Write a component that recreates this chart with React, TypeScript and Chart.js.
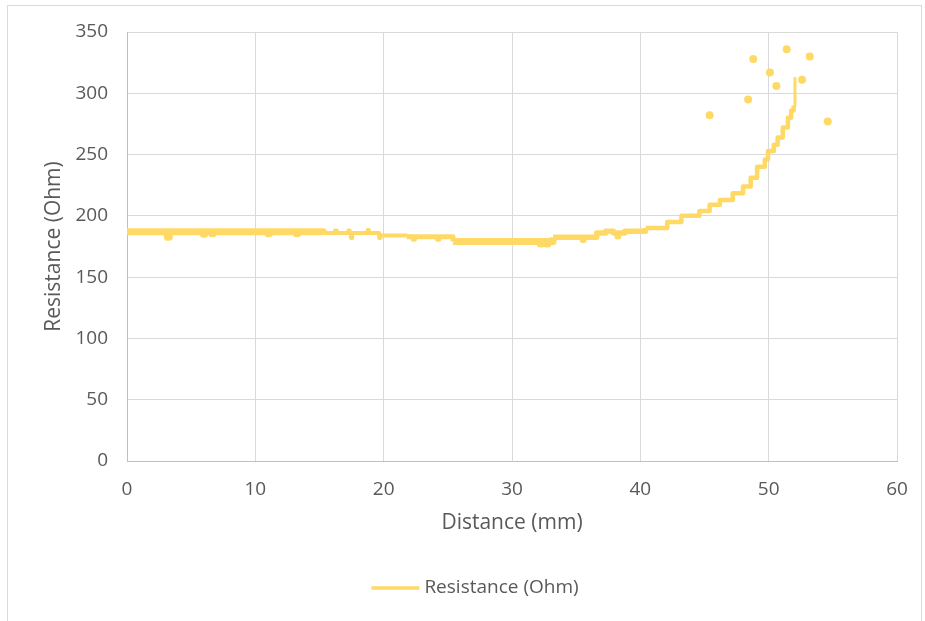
import { useEffect, useRef } from 'react';
import { Chart, registerables } from 'chart.js';

Chart.register(...registerables);

// Main series (distance in mm, resistance in Ohm)
const distance = [
  0, 3.15, 3.3, 5.95, 6.05, 6.6, 6.7, 11.0, 11.1, 13.2, 13.3,
  15.3, 16.2, 16.35, 17.25, 17.35, 17.45, 17.55, 18.75, 18.85, 19.65, 19.75,
  21.8, 22.3, 22.4, 24.2, 24.3,
  25.4, 32.2, 32.3, 32.7, 32.8,
  33.2, 35.5, 35.6, 36.6, 37.3, 37.9, 38.2, 38.3, 38.8,
  40.4, 42.1, 43.2, 44.6, 45.4, 46.2, 47.2, 48.0, 48.6, 49.1, 49.7, 49.95,
  50.4, 50.7, 51.1, 51.5, 51.75, 51.95, 52.05,
];
const resistance = [
  187, 182.5, 187, 185, 187, 185.5, 187, 185.5, 187, 185.5, 187,
  186, 188, 186, 188, 186, 182, 186, 188.5, 186, 182, 184,
  183, 181, 183, 181, 183,
  179, 177, 179, 177, 179,
  182.5, 180, 182.5, 186, 187.5, 186, 183, 186, 187.5,
  190, 195, 200, 204, 209, 213, 218.5, 224, 231, 240, 246, 253,
  258, 264, 272, 280, 286, 290, 313,
];

// Isolated readings near the end of the run
const outlierDistance = [45.4, 48.4, 48.8, 50.1, 50.6, 51.4, 52.6, 53.2, 54.6];
const outlierResistance = [282, 295, 328, 317, 306, 336, 311, 330, 277];

const xTicks = [0, 10, 20, 30, 40, 50, 60];
const yTicks = [0, 50, 100, 150, 200, 250, 300, 350];

const seriesName = 'Resistance (Ohm)';
const xTitle = 'Distance (mm)';
const yTitle = 'Resistance (Ohm)';

const LINE_COLOR = '#FFD966';
const TEXT_COLOR = '#595959';
const GRID_COLOR = '#d9d9d9';
const FONT = '"Open Sans", "Noto Sans", sans-serif';

const CHART_LEFT = 127;
const CHART_RIGHT_PAD = 28;
const CHART_TOP = 32;
const CHART_BOTTOM = 461;
const BOTTOM_PAD = 80;

const legendPlugin = {
  id: 'excelLegend',
  afterDraw(chart: any) {
    const ctx = chart.ctx as CanvasRenderingContext2D;
    ctx.save();
    ctx.font = `19px ${FONT}`;
    const tw = ctx.measureText(seriesName).width;
    const lineW = 48;
    const gap = 5;
    const total = lineW + gap + tw;
    const cx = 475;
    const cy = 588;
    const x0 = cx - total / 2;
    ctx.strokeStyle = LINE_COLOR;
    ctx.lineWidth = 3.5;
    ctx.beginPath();
    ctx.moveTo(x0, cy);
    ctx.lineTo(x0 + lineW, cy);
    ctx.stroke();
    ctx.fillStyle = TEXT_COLOR;
    ctx.textBaseline = 'middle';
    ctx.textAlign = 'left';
    ctx.fillText(seriesName, x0 + lineW + gap, cy);
    ctx.restore();
  },
};

function widthFor(x: number): number {
  if (x < 15.3) return 7;
  if (x < 21.8) return 4;
  if (x < 25.4) return 5;
  if (x < 33.2) return 7;
  if (x < 40.4) return 5.5;
  if (x < 51.95) return 4.5;
  return 3;
}

export default function App() {
  const canvasRef = useRef<HTMLCanvasElement | null>(null);

  useEffect(() => {
    if (!canvasRef.current) return;
    const mainData = distance.map((d, i) => ({ x: d, y: resistance[i] }));
    const outlierData = outlierDistance.map((d, i) => ({ x: d, y: outlierResistance[i] }));

    const chart = new Chart(canvasRef.current, {
      type: 'scatter',
      data: {
        datasets: [
          {
            label: seriesName,
            data: mainData,
            showLine: true,
            stepped: true,
            borderColor: LINE_COLOR,
            backgroundColor: LINE_COLOR,
            borderWidth: 5,
            pointRadius: 0,
            borderJoinStyle: 'round',
            segment: {
              borderWidth: (c: any) => widthFor(c.p0.parsed.x),
            },
          } as any,
          {
            label: 'outliers',
            data: outlierData,
            showLine: false,
            pointRadius: 4,
            pointBorderWidth: 0,
            backgroundColor: LINE_COLOR,
            borderColor: LINE_COLOR,
          },
        ],
      },
      options: {
        animation: false,
        responsive: false,
        maintainAspectRatio: false,
        events: [],
        layout: {
          padding: { left: 0, top: CHART_TOP, right: CHART_RIGHT_PAD, bottom: BOTTOM_PAD },
        },
        plugins: {
          legend: { display: false },
          tooltip: { enabled: false },
        },
        scales: {
          x: {
            type: 'linear',
            min: 0,
            max: 60,
            afterBuildTicks: (scale: any) => {
              scale.ticks = xTicks.map((v) => ({ value: v }));
            },
            afterFit: (scale: any) => {
              scale.height = 621 - BOTTOM_PAD - CHART_BOTTOM;
            },
            grid: { color: GRID_COLOR, lineWidth: 1, drawTicks: false },
            border: { color: '#bfbfbf', width: 1 },
            ticks: {
              color: TEXT_COLOR,
              font: { family: FONT, size: 19 },
              padding: 17,
              maxRotation: 0,
            },
            title: {
              display: true,
              text: xTitle,
              color: TEXT_COLOR,
              font: { family: FONT, size: 21 },
              padding: { top: 0, bottom: 5 },
            },
          },
          y: {
            type: 'linear',
            min: 0,
            max: 350,
            afterBuildTicks: (scale: any) => {
              scale.ticks = yTicks.map((v) => ({ value: v }));
            },
            afterFit: (scale: any) => {
              scale.width = CHART_LEFT;
            },
            grid: { color: GRID_COLOR, lineWidth: 1, drawTicks: false },
            border: { color: '#bfbfbf', width: 1 },
            ticks: {
              color: TEXT_COLOR,
              font: { family: FONT, size: 19 },
              padding: 19,
            },
            title: {
              display: true,
              text: yTitle,
              color: TEXT_COLOR,
              font: { family: FONT, size: 21 },
              padding: { top: 41, bottom: 0 },
            },
          },
        },
      },
      plugins: [legendPlugin],
    });

    return () => {
      chart.destroy();
    };
  }, []);

  return (
    <div style={{ position: 'fixed', left: 0, top: 0, width: 925, height: 621, background: '#fff', overflow: 'hidden' }}>
      <div
        style={{
          position: 'absolute',
          left: 7,
          top: 5,
          width: 915,
          height: 640,
          border: '1px solid #d9d9d9',
          borderBottom: 'none',
          boxSizing: 'border-box',
        }}
      />
      <canvas
        ref={canvasRef}
        width={925}
        height={621}
        style={{ position: 'absolute', left: 0, top: 0, width: 925, height: 621 }}
      />
    </div>
  );
}
